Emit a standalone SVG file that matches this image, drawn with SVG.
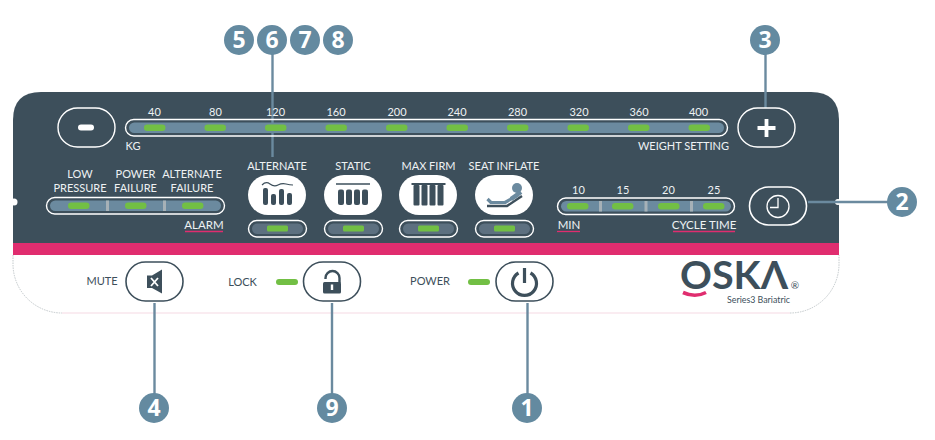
<svg xmlns="http://www.w3.org/2000/svg" width="935" height="440" viewBox="0 0 935 440">
<style>
text{font-family:"Lato","Open Sans","Liberation Sans",sans-serif;}
.l{font-size:11px;fill:#eef2f4;text-anchor:middle}
.d{font-size:11px;fill:#3d4f5b;text-anchor:middle}
.c{fill:#648aa0}
.n{font-family:"Open Sans","Liberation Sans",sans-serif;font-size:23px;font-weight:700;fill:#fff;text-anchor:middle}
.w{fill:#3d4f5b;stroke:#fff;stroke-width:1.6}
.db{fill:#fff;stroke:#3d4f5b;stroke-width:1.6}
.o{fill:none;stroke:#fff;stroke-width:1.4}
.b{fill:#6b8a9f}
.s{fill:#5d7080}
.g{fill:#72bf44}
.u{stroke:#e02d6f;stroke-width:1.3;fill:none}
.k{fill:#3d4f5b}
.ks{fill:none;stroke:#3d4f5b}
.sep{fill:#a6b1b7}
.con{stroke:#6b8a9f;stroke-width:2.4;fill:none}
</style>
<g id="panel">
<path d="M13 243V120Q13 92 41 92H811Q839 92 839 120V243Z" fill="#3d4f5b"/>
<rect x="13" y="243" width="826" height="12" fill="#e02d6f"/>
<path d="M13 255V264A49 49 0 0 0 62 313H790A49 49 0 0 0 839 264V255Z" fill="#fff"/>
<path d="M13 255V264A49 49 0 0 0 62 313M790 313A49 49 0 0 0 839 264V255" fill="none" stroke="#a9b1b6" stroke-width=".7" stroke-dasharray="1.500 1"/>
<line x1="62" y1="313" x2="790" y2="313" stroke="#f2cfdc" stroke-width=".8"/>
<circle cx="14" cy="202" r="3.500" fill="#fff"/>
<circle cx="838" cy="202" r="3" fill="#fff"/>
</g>
<g id="connectors">
<line class="con" x1="272.500" y1="40" x2="272.500" y2="157"/>
<line class="con" x1="765.500" y1="40" x2="765.500" y2="108"/>
<line class="con" x1="808" y1="202" x2="890" y2="202"/>
<line class="con" x1="154.500" y1="303" x2="154.500" y2="408"/>
<line class="con" x1="332" y1="303" x2="332" y2="408"/>
<line class="con" x1="527.500" y1="303" x2="527.500" y2="408"/>
</g>
<g id="weight-minus"><rect class="o" x="58" y="108" width="57" height="39" rx="19.500"/><rect x="78" y="124.500" width="16" height="6" rx="3" fill="#fff"/></g>
<g id="weight-plus"><rect class="o" x="738" y="108" width="57" height="39" rx="19.500"/><path d="M766.500 119V137M757.500 128H775.500" stroke="#fff" stroke-width="3.800"/></g>
<g id="weight-bar">
<rect class="o" x="125.500" y="119.500" width="602" height="16.500" rx="8.250"/>
<rect class="b" x="129" y="122.500" width="595" height="10.500" rx="5.250"/>
<g class="g">
<rect x="144" y="124.500" width="21.500" height="6.500" rx="3.200"/><rect x="204.500" y="124.500" width="21.500" height="6.500" rx="3.200"/><rect x="265" y="124.500" width="21.500" height="6.500" rx="3.200"/><rect x="325.500" y="124.500" width="21.500" height="6.500" rx="3.200"/><rect x="386" y="124.500" width="21.500" height="6.500" rx="3.200"/><rect x="446.500" y="124.500" width="21.500" height="6.500" rx="3.200"/><rect x="507" y="124.500" width="21.500" height="6.500" rx="3.200"/><rect x="567.500" y="124.500" width="21.500" height="6.500" rx="3.200"/><rect x="628" y="124.500" width="21.500" height="6.500" rx="3.200"/><rect x="688.500" y="124.500" width="21.500" height="6.500" rx="3.200"/>
</g>
<text class="l" x="154.500" y="116">40</text><text class="l" x="215.500" y="116">80</text><text class="l" x="275.500" y="116">120</text><text class="l" x="336" y="116">160</text><text class="l" x="397" y="116">200</text><text class="l" x="457" y="116">240</text><text class="l" x="517.500" y="116">280</text><text class="l" x="579" y="116">320</text><text class="l" x="639" y="116">360</text><text class="l" x="698.500" y="116">400</text>
<text class="l" x="133" y="150">KG</text>
<text class="l" x="683.500" y="150">WEIGHT SETTING</text>
</g>
<g id="alarm">
<text class="l" x="80" y="178">LOW</text><text class="l" x="80" y="192">PRESSURE</text>
<text class="l" x="135.500" y="178">POWER</text><text class="l" x="135.500" y="192">FAILURE</text>
<text class="l" x="192" y="178">ALTERNATE</text><text class="l" x="192" y="192">FAILURE</text>
<rect class="o" x="46.500" y="197.500" width="178" height="16.500" rx="8.250"/>
<rect class="b" x="50" y="200.500" width="171" height="10.500" rx="5.250"/>
<rect class="sep" x="106" y="200.500" width="3" height="10.500"/><rect class="sep" x="163" y="200.500" width="3" height="10.500"/>
<g class="g"><rect x="68" y="202.500" width="21.500" height="6.500" rx="3.200"/><rect x="125" y="202.500" width="21.500" height="6.500" rx="3.200"/><rect x="182" y="202.500" width="21.500" height="6.500" rx="3.200"/></g>
<text class="l" x="204" y="229" style="font-size:11.500px">ALARM</text><line class="u" x1="185" y1="231.500" x2="223" y2="231.500"/>
</g>
<g id="mode-alternate">
<text class="l" x="277" y="170">ALTERNATE</text>
<rect x="248" y="175" width="58" height="40" rx="20" fill="#fff"/>
<path d="M262 185Q266 181 270 184T278 185T286 184T293 185" class="ks" stroke-width="1.200"/>
<g class="k"><rect x="263" y="188" width="5" height="17" rx="2"/><rect x="271" y="194" width="5" height="11" rx="2"/><rect x="279" y="189" width="5" height="16" rx="2"/><rect x="287" y="193" width="5" height="12" rx="2"/></g>
<rect class="o" x="248.500" y="220.500" width="58" height="16.500" rx="8.250"/><rect class="s" x="252" y="223.500" width="51" height="10.500" rx="5.250"/><rect class="g" x="267" y="225.500" width="21" height="6" rx="1.500"/>
</g>
<g id="mode-static">
<text class="l" x="353" y="170">STATIC</text>
<rect x="324" y="175" width="58" height="40" rx="20" fill="#fff"/>
<line x1="336" y1="184" x2="370" y2="184" class="ks" stroke-width="1.400"/>
<g class="k"><rect x="338" y="189.500" width="6" height="15.500" rx="2"/><rect x="346" y="189.500" width="6" height="15.500" rx="2"/><rect x="354" y="189.500" width="6" height="15.500" rx="2"/><rect x="362" y="189.500" width="6" height="15.500" rx="2"/></g>
<rect class="o" x="324.500" y="220.500" width="58" height="16.500" rx="8.250"/><rect class="s" x="328" y="223.500" width="51" height="10.500" rx="5.250"/><rect class="g" x="343" y="225.500" width="21" height="6" rx="1.500"/>
</g>
<g id="mode-maxfirm">
<text class="l" x="428.500" y="170">MAX FIRM</text>
<rect x="399" y="175" width="58" height="40" rx="20" fill="#fff"/>
<rect class="k" x="411.500" y="183" width="34" height="2"/>
<g class="k"><rect x="413.500" y="185" width="6" height="20.500" rx="1"/><rect x="421.500" y="185" width="6" height="20.500" rx="1"/><rect x="429.500" y="185" width="6" height="20.500" rx="1"/><rect x="437.500" y="185" width="6" height="20.500" rx="1"/></g>
<rect class="o" x="399.500" y="220.500" width="58" height="16.500" rx="8.250"/><rect class="s" x="403" y="223.500" width="51" height="10.500" rx="5.250"/><rect class="g" x="418" y="225.500" width="21" height="6" rx="1.500"/>
</g>
<g id="mode-seat">
<text class="l" x="504" y="170">SEAT INFLATE</text>
<rect x="475" y="175" width="58" height="40" rx="20" fill="#fff"/>
<circle cx="517" cy="188" r="5" class="b"/>
<path d="M487.500 199L491 202.500H505L518 195" fill="none" stroke="#6b8a9f" stroke-width="3.200" stroke-linejoin="round"/>
<path d="M511 199L521 192" fill="none" stroke="#6b8a9f" stroke-width="4.500"/>
<path d="M487 206H507L522 196" fill="none" stroke="#3d4f5b" stroke-width="2.400"/>
<rect class="o" x="475.500" y="220.500" width="58" height="16.500" rx="8.250"/><rect class="s" x="479" y="223.500" width="51" height="10.500" rx="5.250"/><rect class="g" x="494" y="225.500" width="21" height="6" rx="1.500"/>
</g>
<g id="cycle">
<text class="l" x="578.500" y="194">10</text><text class="l" x="623" y="194">15</text><text class="l" x="668.500" y="194">20</text><text class="l" x="714" y="194">25</text>
<rect class="o" x="557.500" y="198" width="177" height="16.500" rx="8.250"/>
<rect class="b" x="561" y="201" width="170" height="10.500" rx="5.250"/>
<rect class="sep" x="599" y="201" width="3" height="10.500"/><rect class="sep" x="644.500" y="201" width="3" height="10.500"/><rect class="sep" x="690" y="201" width="3" height="10.500"/>
<g class="g"><rect x="567" y="203" width="21.500" height="6.500" rx="3.200"/><rect x="612" y="203" width="21.500" height="6.500" rx="3.200"/><rect x="658" y="203" width="21.500" height="6.500" rx="3.200"/><rect x="703" y="203" width="21.500" height="6.500" rx="3.200"/></g>
<text class="l" x="569" y="229" style="font-size:11.500px">MIN</text><line class="u" x1="557" y1="231.500" x2="580" y2="231.500"/>
<text class="l" x="704" y="229" style="font-size:11.500px">CYCLE TIME</text><line class="u" x1="673" y1="231.500" x2="735" y2="231.500"/>
</g>
<g id="clock-button"><rect class="w" x="749.500" y="187" width="57" height="38" rx="19"/><circle cx="778" cy="206.500" r="11" fill="none" stroke="#fff" stroke-width="1.300"/><path d="M778 198V207.500H770" fill="none" stroke="#fff" stroke-width="1.300"/></g>
<g id="mute">
<text class="d" x="102" y="285">MUTE</text>
<rect class="db" x="126" y="262" width="57" height="39" rx="19.500"/>
<path class="k" d="M147 275.500H152L162 269.500V293.500L152 288H147Z"/>
<path d="M151 278L158 286M158 278L151 286" stroke="#fff" stroke-width="1.800"/>
</g>
<g id="lock">
<text class="d" x="242.500" y="286">LOCK</text>
<rect class="g" x="276" y="279" width="22" height="6" rx="3"/>
<rect class="db" x="303.500" y="262" width="57" height="39" rx="19.500"/>
<path class="ks" d="M325.500 279V278A7 7 0 0 1 339.500 278V283" stroke-width="2.400"/>
<rect class="k" x="323" y="282" width="18" height="11.500" rx="1.500"/>
<rect x="330.800" y="284.500" width="2.400" height="5.500" fill="#fff"/>
</g>
<g id="power">
<text class="d" x="430" y="285">POWER</text>
<rect class="g" x="468" y="279" width="22" height="6" rx="3"/>
<rect class="db" x="496" y="262" width="57" height="39" rx="19.500"/>
<path class="ks" d="M518.500 273A12 12 0 1 0 530.500 273" stroke-width="3.200"/>
<line x1="524.500" y1="268" x2="524.500" y2="283" class="ks" stroke-width="3.200"/>
</g>
<g id="logo">
<text x="680" y="289" font-size="38" textLength="108" lengthAdjust="spacingAndGlyphs" style="font-family:'Lato','Liberation Sans',sans-serif;font-weight:700;fill:#3d4f5b">OSKΛ</text>
<path d="M683 292.500Q695 298 706 292.500" fill="none" stroke="#e02d6f" stroke-width="3.600"/>
<text x="727" y="303" font-size="9.500" textLength="63" lengthAdjust="spacingAndGlyphs" style="fill:#3d4f5b">Series3 Bariatric</text>
<text x="795" y="289" font-size="10" text-anchor="middle" style="fill:#3d4f5b">®</text>
</g>
<g id="n1"><circle class="c" cx="527" cy="408" r="15"/><text class="n" x="527" y="416">1</text></g>
<g id="n2"><circle class="c" cx="902" cy="202" r="15"/><text class="n" x="902" y="210">2</text></g>
<g id="n3"><circle class="c" cx="765" cy="40" r="15"/><text class="n" x="765" y="48">3</text></g>
<g id="n4"><circle class="c" cx="154" cy="408" r="15"/><text class="n" x="154" y="416">4</text></g>
<g id="n5"><circle class="c" cx="239" cy="40" r="15"/><text class="n" x="239" y="48">5</text></g>
<g id="n6"><circle class="c" cx="272" cy="40" r="15"/><text class="n" x="272" y="48">6</text></g>
<g id="n7"><circle class="c" cx="305" cy="40" r="15"/><text class="n" x="305" y="48">7</text></g>
<g id="n8"><circle class="c" cx="338" cy="40" r="15"/><text class="n" x="338" y="48">8</text></g>
<g id="n9"><circle class="c" cx="332" cy="408" r="15"/><text class="n" x="332" y="416">9</text></g>
</svg>
